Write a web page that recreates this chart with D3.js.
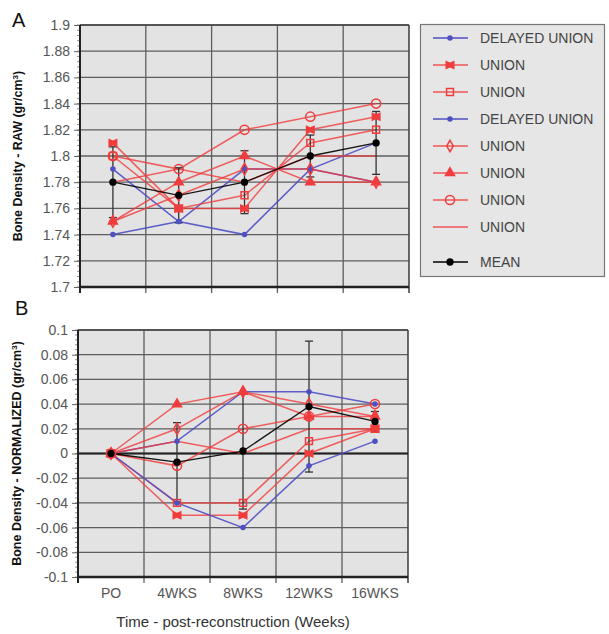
<!DOCTYPE html>
<html>
<head>
<meta charset="utf-8">
<script src="https://cdn.jsdelivr.net/npm/d3@7"></script>
<style>
  body { margin: 0; background: #fff; }
  text { font-family: "Liberation Sans", Arial, sans-serif; }
</style>
</head>
<body>
<svg id="chart" width="609" height="634"></svg>
<script>
// ---- data ----
const weeks = ["PO", "4WKS", "8WKS", "12WKS", "16WKS"];
const seriesNames = ["DELAYED UNION", "UNION", "UNION", "DELAYED UNION", "UNION", "UNION", "UNION", "UNION", "MEAN"];

// panel A - raw bone density
const rawDelayedA  = [1.74, 1.75, 1.79, 1.79, 1.78];
const rawUnionX    = [1.81, 1.76, 1.76, 1.82, 1.83];
const rawUnionSq   = [1.80, 1.76, 1.77, 1.81, 1.82];
const rawDelayedB  = [1.79, 1.75, 1.74, 1.79, 1.81];
const rawUnionDia  = [1.75, 1.77, 1.79, 1.79, 1.78];
const rawUnionTri  = [1.75, 1.78, 1.80, 1.78, 1.78];
const rawUnionCirc = [1.80, 1.79, 1.82, 1.83, 1.84];
const rawUnionLine = [1.78, 1.79, 1.78, 1.80, 1.80];
const rawMean      = [1.78, 1.77, 1.78, 1.80, 1.81];
const rawMeanErr   = [0.027, 0.021, 0.024, 0.016, 0.024];
const rawTicks = [1.7, 1.72, 1.74, 1.76, 1.78, 1.8, 1.82, 1.84, 1.86, 1.88, 1.9];

// panel B - normalized to PO
const normDelayedA  = [0, 0.01, 0.05, 0.05, 0.04];
const normUnionX    = [0, -0.05, -0.05, 0.00, 0.02];
const normUnionSq   = [0, -0.04, -0.04, 0.01, 0.02];
const normDelayedB  = [0, -0.04, -0.06, -0.01, 0.01];
const normUnionDia  = [0, 0.02, 0.05, 0.04, 0.03];
const normUnionTri  = [0, 0.04, 0.05, 0.03, 0.03];
const normUnionCirc = [0, -0.01, 0.02, 0.03, 0.04];
const normUnionLine = [0, 0.01, 0.00, 0.02, 0.02];
const normMean      = [0, -0.007, 0.002, 0.038, 0.026];
const normMeanErr   = [0, 0.032, 0.047, 0.053, 0.008];
const normTicks = [-0.1, -0.08, -0.06, -0.04, -0.02, 0, 0.02, 0.04, 0.06, 0.08, 0.1];

// ---- styles ----
const BLUE = "#4f4fc4", RED = "#f03c3c";
const seriesStyle = [
  { color: BLUE, marker: "dot" },
  { color: RED, marker: "bowtie" },
  { color: RED, marker: "square" },
  { color: BLUE, marker: "dot" },
  { color: RED, marker: "diamond" },
  { color: RED, marker: "triangle" },
  { color: RED, marker: "circle" },
  { color: RED, marker: "none" },
  { color: "#000", marker: "mean" }
];

const svg = d3.select("#chart");

function markerPath(kind) {
  switch (kind) {
    case "dot": return d3.symbol(d3.symbolCircle, 24)();
    case "mean": return d3.symbol(d3.symbolCircle, 42)();
    case "square": return d3.symbol(d3.symbolSquare, 48)();
    case "diamond": return d3.symbol(d3.symbolDiamond, 38)();
    case "triangle": return d3.symbol(d3.symbolTriangle, 58)();
    case "circle": return d3.symbol(d3.symbolCircle, 66)();
    case "bowtie": return "M-4.5,-4.5L0,-2.5L4.5,-4.5L4.5,4.5L0,2.5L-4.5,4.5Z";
  }
  return null;
}

function styleMarker(sel, st) {
  const open = st.marker === "square" || st.marker === "diamond" || st.marker === "circle";
  sel.attr("d", markerPath(st.marker))
    .attr("fill", open ? "none" : st.color)
    .attr("stroke", open ? st.color : "none")
    .attr("stroke-width", open ? 1.5 : 0);
}

function drawPanel(p) {
  const g = svg.append("g");
  const x = d3.scaleBand().domain(weeks).range([p.left, p.right]);
  const y = d3.scaleLinear().domain([p.ticks[0], p.ticks[p.ticks.length - 1]]).range([p.bottom, p.top]);
  const cx = w => x(w) + x.bandwidth() / 2;

  g.append("rect").attr("x", p.left).attr("y", p.top)
    .attr("width", p.right - p.left).attr("height", p.bottom - p.top)
    .attr("fill", "#e3e3e3");

  // horizontal gridlines
  g.selectAll(".hg").data(p.ticks).join("line")
    .attr("x1", p.left).attr("x2", p.right)
    .attr("y1", d => y(d)).attr("y2", d => y(d))
    .attr("stroke", "#5e5e5e").attr("stroke-width", 1.3);
  // vertical gridlines at category edges
  g.selectAll(".vg").data(weeks.slice(1)).join("line")
    .attr("x1", d => x(d)).attr("x2", d => x(d))
    .attr("y1", p.top).attr("y2", p.bottom + 6)
    .attr("stroke", "#5e5e5e").attr("stroke-width", 1.3);
  g.append("line").attr("x1", p.right).attr("x2", p.right)
    .attr("y1", p.top).attr("y2", p.bottom + 6)
    .attr("stroke", "#444").attr("stroke-width", 1.6);
  g.append("line").attr("x1", p.left).attr("x2", p.right)
    .attr("y1", p.top).attr("y2", p.top)
    .attr("stroke", "#444").attr("stroke-width", 1.6);

  if (p.zero) {
    g.append("line").attr("x1", p.left).attr("x2", p.right)
      .attr("y1", y(0)).attr("y2", y(0))
      .attr("stroke", "#222").attr("stroke-width", 1.8);
  }

  // y axis with minor ticks
  const step = (p.ticks[1] - p.ticks[0]) / 5;
  const minor = d3.range(p.ticks[0], p.ticks[p.ticks.length - 1] + step / 2, step);
  g.selectAll(".mt").data(minor).join("line")
    .attr("x1", p.left - 3).attr("x2", p.left)
    .attr("y1", d => y(d)).attr("y2", d => y(d))
    .attr("stroke", "#777").attr("stroke-width", 0.8);
  const yAxis = g.append("g").attr("transform", `translate(${p.left},0)`)
    .call(d3.axisLeft(y).tickValues(p.ticks).tickFormat(d => String(d)).tickSize(6).tickPadding(4));
  yAxis.select(".domain").remove();
  yAxis.selectAll(".tick line").attr("stroke", "#666");
  yAxis.selectAll(".tick text").attr("fill", "#555").style("font-size", "14px")
    .style("font-family", "\"Liberation Sans\", Arial, sans-serif");

  // left + bottom frame
  g.append("line").attr("x1", p.left).attr("x2", p.left)
    .attr("y1", p.top).attr("y2", p.bottom + 6)
    .attr("stroke", "#222").attr("stroke-width", 2);
  g.append("line").attr("x1", p.left).attr("x2", p.right)
    .attr("y1", p.bottom).attr("y2", p.bottom)
    .attr("stroke", "#222").attr("stroke-width", 2.4);

  // series lines
  const line = d3.line().x((v, i) => cx(weeks[i])).y(v => y(v));
  p.series.forEach((vals, k) => {
    const st = seriesStyle[k];
    g.append("path").attr("d", line(vals)).attr("fill", "none")
      .attr("stroke", st.color).attr("stroke-width", st.color === "#000" ? 1.3 : 1.5)
      .attr("stroke-opacity", st.color === RED ? 0.8 : 0.9);
  });

  // error bars on the mean
  const meanVals = p.series[p.series.length - 1];
  const eb = g.append("g").attr("stroke", "#333").attr("stroke-width", 1.3);
  weeks.forEach((w, i) => {
    if (!p.err[i]) return;
    const hi = y(meanVals[i] + p.err[i]), lo = y(meanVals[i] - p.err[i]);
    eb.append("line").attr("x1", cx(w)).attr("x2", cx(w)).attr("y1", hi).attr("y2", lo);
    [hi, lo].forEach(yy => eb.append("line").attr("x1", cx(w) - 4).attr("x2", cx(w) + 4).attr("y1", yy).attr("y2", yy));
  });

  // markers
  p.series.forEach((vals, k) => {
    const st = seriesStyle[k];
    if (st.marker === "none") return;
    g.selectAll(null).data(vals).join("path")
      .attr("transform", (v, i) => `translate(${cx(weeks[i])},${y(v)})`)
      .call(styleMarker, st);
  });

  // panel letter
  g.append("text").attr("x", p.letterX).attr("y", p.letterY)
    .style("font-size", "20px").attr("fill", "#111").text(p.letter);

  // y title
  const t = g.append("text")
    .attr("transform", `translate(${p.titleX},${(p.top + p.bottom) / 2}) rotate(-90)`)
    .attr("text-anchor", "middle").style("font-size", "12.5px").style("font-weight", "bold")
    .attr("fill", "#111");
  t.append("tspan").text(p.title + " (gr/cm");
  t.append("tspan").attr("baseline-shift", "super").style("font-size", "8px").text("3");
  t.append("tspan").text(")");

  if (p.xLabels) {
    g.selectAll(".xl").data(weeks).join("text")
      .attr("x", d => cx(d)).attr("y", p.bottom + 21)
      .attr("text-anchor", "middle").style("font-size", "14px").attr("fill", "#555")
      .text(d => d);
  }
  return x;
}

drawPanel({
  left: 80, right: 409, top: 25, bottom: 287,
  ticks: rawTicks,
  series: [rawDelayedA, rawUnionX, rawUnionSq, rawDelayedB, rawUnionDia, rawUnionTri, rawUnionCirc, rawUnionLine, rawMean],
  err: rawMeanErr,
  letter: "A", letterX: 12, letterY: 27,
  title: "Bone Density - RAW", titleX: 22,
  zero: false, xLabels: false
});

drawPanel({
  left: 78, right: 408, top: 330, bottom: 577,
  ticks: normTicks,
  series: [normDelayedA, normUnionX, normUnionSq, normDelayedB, normUnionDia, normUnionTri, normUnionCirc, normUnionLine, normMean],
  err: normMeanErr,
  letter: "B", letterX: 15, letterY: 315,
  title: "Bone Density - NORMALIZED", titleX: 21,
  zero: true, xLabels: true
});

// x axis title
svg.append("text").attr("x", 233).attr("y", 627).attr("text-anchor", "middle")
  .style("font-size", "15px").attr("fill", "#333")
  .text("Time - post-reconstruction (Weeks)");

// legend
const legend = svg.append("g");
legend.append("rect").attr("x", 420.5).attr("y", 24.5).attr("width", 184).attr("height", 252)
  .attr("fill", "#e6e6e6").attr("stroke", "#777").attr("stroke-width", 1.2);
const legY = i => 38 + i * 27 + (i === seriesNames.length - 1 ? 8 : 0);
seriesNames.forEach((name, i) => {
  const st = seriesStyle[i];
  const row = legend.append("g").attr("transform", `translate(0,${legY(i)})`);
  row.append("line").attr("x1", 433).attr("x2", 468).attr("y1", 0).attr("y2", 0)
    .attr("stroke", st.color).attr("stroke-width", 1.5).attr("stroke-opacity", st.color === RED ? 0.85 : 1);
  if (st.marker !== "none") {
    row.append("path").attr("transform", "translate(450,0)").call(styleMarker, st);
  }
  row.append("text").attr("x", 480).attr("y", 5).style("font-size", "14px")
    .attr("fill", "#444").text(name);
});
</script>
</body>
</html>
